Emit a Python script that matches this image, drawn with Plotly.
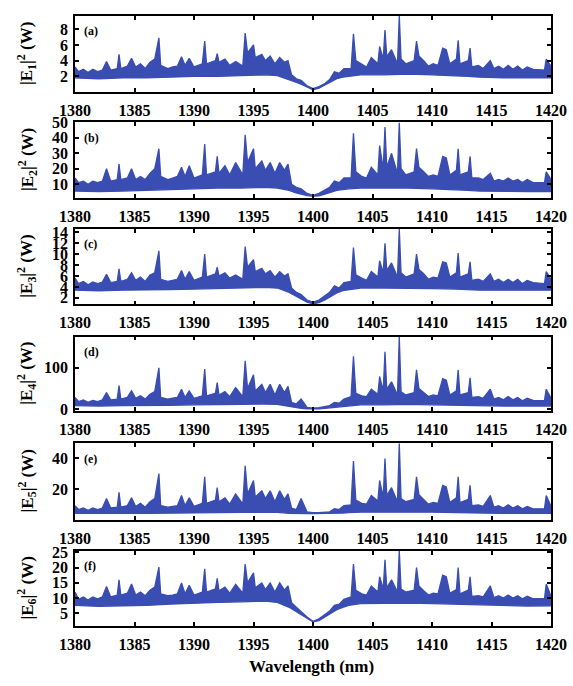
import plotly.graph_objects as go

# ---------------- data ----------------
wavelength_hi = [
    1380.0, 1380.3, 1380.7, 1381.1, 1381.5, 1381.9, 1382.3, 1382.65, 1383.0, 1383.55,
    1383.7, 1383.85, 1384.4, 1384.75, 1385.1, 1385.5, 1385.9, 1386.3, 1386.7, 1387.05,
    1387.2, 1387.8, 1388.2, 1388.6, 1388.95, 1389.25, 1389.6, 1390.0, 1390.7, 1390.9,
    1391.05, 1391.8, 1391.95, 1392.1, 1392.6, 1393.0, 1393.5, 1394.1, 1394.3, 1394.5,
    1395.0, 1395.15, 1395.7, 1396.0, 1396.4, 1396.8, 1397.2, 1397.6, 1397.9, 1398.2,
    1398.6, 1399.0, 1399.5, 1400.0, 1400.5, 1401.0, 1401.4, 1401.8, 1402.2, 1402.6,
    1403.2, 1403.4, 1403.6, 1404.1, 1404.5, 1404.9, 1405.45, 1405.6, 1405.9, 1406.05,
    1406.2, 1406.6, 1407.1, 1407.25, 1407.4, 1407.8, 1408.5, 1408.7, 1408.9, 1409.3,
    1409.7, 1410.1, 1410.5, 1410.9, 1411.2, 1411.5, 1412.05, 1412.2, 1412.35, 1413.05,
    1413.2, 1413.35, 1413.9, 1414.3, 1414.9, 1415.2, 1415.6, 1416.0, 1416.4, 1416.8,
    1417.2, 1417.6, 1418.0, 1418.5, 1419.45, 1419.6, 1420.0,
]

wavelength_lo = [1380, 1382, 1384, 1386, 1388, 1390, 1392, 1394, 1396, 1397,
                 1398, 1398.5, 1399, 1399.5, 1400, 1400.5, 1401, 1401.5, 1402, 1402.5,
                 1403, 1404, 1406, 1408, 1410, 1412, 1413, 1414, 1416, 1418, 1420]

# upper envelope of each spectrum |E_n|^2 (W)
hi_1 = [3.2, 2.6, 2.9, 2.5, 2.9, 2.6, 2.8, 3.9, 2.8, 3.0,
        4.8, 3.0, 3.3, 4.3, 3.2, 3.6, 3.0, 3.8, 4.2, 6.9,
        3.4, 3.0, 3.2, 3.3, 4.5, 3.4, 4.3, 3.2, 3.6, 6.5,
        3.6, 4.0, 4.9, 3.8, 4.2, 3.4, 3.9, 3.3, 7.5, 5.0,
        6.0, 4.4, 4.8, 4.0, 4.6, 3.6, 4.4, 3.8, 4.0, 2.2,
        1.7, 1.5, 0.8, 0.45, 0.7, 1.1, 1.6, 2.6, 2.4, 3.0,
        3.0, 7.4, 4.0, 3.5, 3.2, 4.4, 3.6, 5.8, 4.2, 7.9,
        4.5, 5.4, 3.6, 9.7, 4.2, 3.6, 4.0, 6.5, 4.6, 4.0,
        3.3, 3.6, 3.4, 5.6, 5.4, 3.6, 4.2, 6.6, 3.6, 4.0,
        5.6, 3.2, 3.4, 3.0, 4.0, 3.0, 3.3, 2.9, 3.4, 2.9,
        3.3, 2.8, 3.2, 2.9, 2.8, 4.2, 3.3]
hi_2 = [14, 11, 12, 10, 12, 11, 12, 20, 12, 13,
        23, 13, 14, 20, 13, 15, 13, 17, 20, 33,
        15, 13, 14, 15, 21, 15, 22, 14, 16, 36,
        16, 18, 28, 17, 22, 16, 24, 16, 42, 24,
        33, 20, 25, 19, 24, 17, 24, 19, 23, 10,
        8, 7, 4, 2.7, 4, 6, 8, 12, 11, 14,
        14, 43, 18, 15, 14, 21, 16, 35, 20, 47,
        21, 30, 17, 50, 20, 16, 18, 33, 21, 18,
        15, 16, 15, 28, 27, 16, 19, 33, 16, 18,
        28, 14, 14, 13, 17, 12, 13, 12, 14, 12,
        13, 11, 13, 11, 11, 18, 13]
hi_3 = [5.6, 4.6, 5.0, 4.4, 4.9, 4.6, 4.9, 6.3, 4.8, 5.0,
        7.3, 5.0, 5.4, 6.6, 5.2, 5.8, 5.0, 6.2, 6.6, 10.6,
        5.4, 5.0, 5.2, 5.4, 7.0, 5.4, 6.8, 5.2, 5.8, 10.0,
        5.8, 6.4, 7.6, 6.0, 6.6, 5.6, 6.2, 5.4, 11.4, 7.6,
        9.0, 6.8, 7.4, 6.4, 7.0, 5.8, 6.8, 6.0, 6.4, 3.8,
        3.0, 2.6, 1.6, 1.2, 1.6, 2.3, 3.0, 4.2, 3.8, 4.8,
        5.0, 11.2, 6.2, 5.6, 5.2, 6.8, 5.8, 8.8, 6.6, 12.0,
        7.0, 8.4, 5.8, 14.6, 6.6, 5.8, 6.4, 10.0, 7.2, 6.4,
        5.4, 5.8, 5.6, 8.6, 8.4, 5.8, 6.6, 10.2, 5.8, 6.4,
        8.6, 5.2, 5.4, 5.0, 6.4, 5.0, 5.4, 4.8, 5.4, 4.8,
        5.4, 4.6, 5.2, 4.8, 4.6, 6.8, 5.4]
hi_4 = [28, 18, 22, 16, 21, 18, 22, 40, 22, 24,
        57, 24, 28, 44, 26, 32, 24, 36, 42, 100,
        28, 24, 26, 28, 48, 28, 44, 26, 32, 97,
        32, 38, 64, 34, 42, 30, 52, 30, 117, 50,
        83, 44, 60, 40, 60, 34, 60, 40, 55, 16,
        12, 24, 4, 2, 3, 5, 8, 16, 14, 24,
        30, 128, 38, 32, 30, 48, 36, 79, 44, 139,
        48, 66, 34, 176, 42, 34, 40, 95, 50, 40,
        30, 34, 32, 74, 70, 34, 44, 95, 34, 40,
        76, 28, 30, 26, 48, 24, 28, 22, 30, 22,
        28, 20, 26, 21, 20, 48, 26]
hi_5 = [9.5, 7, 8, 6.5, 8, 7, 8, 14, 8, 8.5,
        18, 8.5, 9.5, 14.6, 9, 11, 8.5, 12, 14, 30,
        9.5, 8.5, 9, 9.5, 16, 9.5, 14.5, 9, 11, 28,
        11, 13, 21, 12, 14.5, 10.5, 17, 10.5, 35, 17,
        25.6, 15, 19, 14, 19, 12, 19, 13.5, 17, 8,
        7, 14, 5.5, 5, 5, 5.2, 5.5, 7.5, 7, 9.5,
        10, 38, 13, 11, 10.5, 16, 12.5, 25.6, 15, 39.6,
        16, 21, 12, 49.4, 14, 12, 13.5, 28, 16.5, 13.5,
        10.5, 11.5, 11, 22.5, 21.5, 11.5, 14.5, 28, 11.5, 13.5,
        22.5, 9.5, 10, 9, 16, 8.5, 9.5, 8, 10, 8,
        9.5, 7.5, 9, 7.5, 7.5, 16, 9]
hi_6 = [12, 9.6, 10.4, 9.4, 10.4, 9.8, 10.4, 13.8, 10.4, 11,
        16, 11, 11.6, 14.6, 11, 12, 10.8, 12.6, 13.6, 20.2,
        11.4, 10.8, 11, 11.4, 15, 11.4, 14.2, 11, 12, 19.6,
        12, 13, 16.5, 12.4, 13.6, 11.6, 14.5, 11.6, 21.2, 15,
        18.3, 13.4, 15, 12.8, 15, 12, 15, 12.6, 14, 8.5,
        7, 5.5, 3.8, 2.4, 3.2, 4.6, 5.8, 7.6, 8, 9.6,
        10.4, 21.2, 12.6, 11.4, 11, 14, 12, 17, 13, 22.6,
        13.4, 16, 12, 25.5, 13, 12, 12.6, 20, 14, 12.4,
        11, 11.6, 11.4, 17.5, 17, 11.6, 12.8, 20, 11.4, 12.6,
        17, 10.6, 10.8, 10.4, 14, 10.2, 10.8, 10, 11, 10,
        10.8, 9.8, 10.6, 9.8, 9.8, 14.6, 10.6]

# lower envelope of each spectrum |E_n|^2 (W)
lo_1 = [1.8, 1.7, 1.8, 1.8, 1.9, 2.0, 2.0, 2.1, 2.2, 2.1,
        1.6, 1.3, 1.0, 0.6, 0.3, 0.5, 0.9, 1.3, 1.7, 1.9,
        2.0, 2.2, 2.2, 2.3, 2.2, 2.1, 2.0, 1.9, 1.8, 1.8, 1.8]
lo_2 = [5.5, 5.2, 5.5, 5.8, 6.5, 7, 7.5, 7.5, 8, 7.5,
        6, 4.5, 3.5, 2.6, 2.2, 2.5, 3.5, 5, 6, 6.5,
        7, 7.5, 7.5, 7.5, 7, 6.5, 6, 5.5, 5.2, 5.2, 5.2]
lo_3 = [3.4, 3.3, 3.4, 3.4, 3.5, 3.6, 3.7, 3.8, 3.9, 3.8,
        3.0, 2.4, 1.8, 1.2, 0.9, 1.1, 1.6, 2.3, 2.9, 3.3,
        3.5, 3.8, 3.8, 3.8, 3.7, 3.6, 3.5, 3.4, 3.4, 3.4, 3.4]
lo_4 = [8, 7, 8, 8, 9, 10, 10, 11, 12, 11,
        6, 3, 1.5, 0.5, 0, 0.5, 1.5, 3, 5, 7,
        8, 10, 10, 11, 10, 9, 8, 7, 7, 7, 7]
lo_5 = [4.5, 4.3, 4.5, 4.5, 4.8, 5, 5, 5.2, 5.5, 5.2,
        4.6, 4.4, 4.4, 4.4, 4.4, 4.4, 4.4, 4.5, 4.6, 4.8,
        5, 5.3, 5.3, 5.5, 5.3, 5, 4.8, 4.6, 4.5, 4.5, 4.5]
lo_6 = [7.6, 7.3, 7.5, 7.6, 8, 8.4, 8.6, 8.8, 9, 8.6,
        7, 5.8, 4.6, 3.2, 2.2, 2.6, 3.8, 5, 6.2, 7,
        7.6, 8.2, 8.4, 8.4, 8.2, 8, 7.8, 7.6, 7.4, 7.4, 7.5]

panel_letters = ["a", "b", "c", "d", "e", "f"]
field_index = ["1", "2", "3", "4", "5", "6"]
x_tickvals = [1380, 1385, 1390, 1395, 1400, 1405, 1410, 1415, 1420]
y_tickvals = [[2, 4, 6, 8], [10, 20, 30, 40, 50], [2, 4, 6, 8, 10, 12, 14],
              [0, 100], [20, 40], [5, 10, 15, 20, 25]]
y_ranges = [[0, 9.7], [1.2, 50], [0.8, 14.6], [-5, 176], [0.6, 49.4], [0.8, 25.5]]
hi_all = [hi_1, hi_2, hi_3, hi_4, hi_5, hi_6]
lo_all = [lo_1, lo_2, lo_3, lo_4, lo_5, lo_6]

# ---------------- figure ----------------
W, H = 573, 686
L, R = 75, 22
panel_px = [(8, 86), (117, 194), (226, 303), (336, 412), (445, 523), (555, 632)]
BLUE = "#3a4db2"
FONT = "Liberation Serif"

fig = go.Figure()
layout = dict(width=W, height=H, margin=dict(l=L, r=R, t=0, b=0),
              paper_bgcolor="white", plot_bgcolor="white", showlegend=False)
annotations = []

for i in range(6):
    n = i + 1
    xa = "x" if n == 1 else f"x{n}"
    ya = "y" if n == 1 else f"y{n}"
    fig.add_trace(go.Scatter(x=wavelength_lo, y=lo_all[i], xaxis=xa, yaxis=ya,
                             mode="lines", line=dict(color=BLUE, width=1.3),
                             hoverinfo="skip"))
    fig.add_trace(go.Scatter(x=wavelength_hi, y=hi_all[i], xaxis=xa, yaxis=ya,
                             mode="lines", line=dict(color=BLUE, width=1.3),
                             fill="tonexty", fillcolor=BLUE))
    top, bot = panel_px[i]
    dom = [1 - bot / H, 1 - top / H]
    common = dict(showline=True, linecolor="black", linewidth=1.6, mirror="ticks",
                  ticks="inside", ticklen=4, tickwidth=1.6, tickcolor="black",
                  showgrid=False, zeroline=False,
                  tickfont=dict(family=FONT, size=16, color="black", weight="bold"))
    layout["xaxis" if n == 1 else f"xaxis{n}"] = dict(
        domain=[0, 1], anchor=ya, range=[1380, 1420], tickvals=x_tickvals,
        ticklabelstandoff=3, **common)
    layout["yaxis" if n == 1 else f"yaxis{n}"] = dict(
        domain=dom, anchor=xa, range=y_ranges[i], tickvals=y_tickvals[i],
        ticklabelstandoff=2, **common)
    annotations.append(dict(
        text=f"|E<sub>{field_index[i]}</sub>|<sup>2</sup> (W)", textangle=-90,
        xref="paper", yref="paper", x=(27 - L) / (W - L - R), y=(dom[0] + dom[1]) / 2,
        xanchor="center", yanchor="middle", showarrow=False,
        font=dict(family=FONT, size=17, color="black", weight="bold")))
    annotations.append(dict(
        text=f"({panel_letters[i]})", xref=f"{xa} domain", yref=f"{ya} domain",
        x=0.015, y=0.8, xanchor="left", yanchor="middle", showarrow=False,
        font=dict(family=FONT, size=12, color="black", weight="bold")))

annotations.append(dict(
    text="Wavelength (nm)", xref="paper", yref="paper",
    x=0.496, y=1 - 673 / H, xanchor="center", yanchor="middle", showarrow=False,
    font=dict(family=FONT, size=17, color="black", weight="bold")))
layout["annotations"] = annotations
fig.update_layout(**layout)
fig.write_html("out.html", config={"displayModeBar": False},
               post_script="document.body.style.margin='0';document.body.style.overflow='hidden';")
